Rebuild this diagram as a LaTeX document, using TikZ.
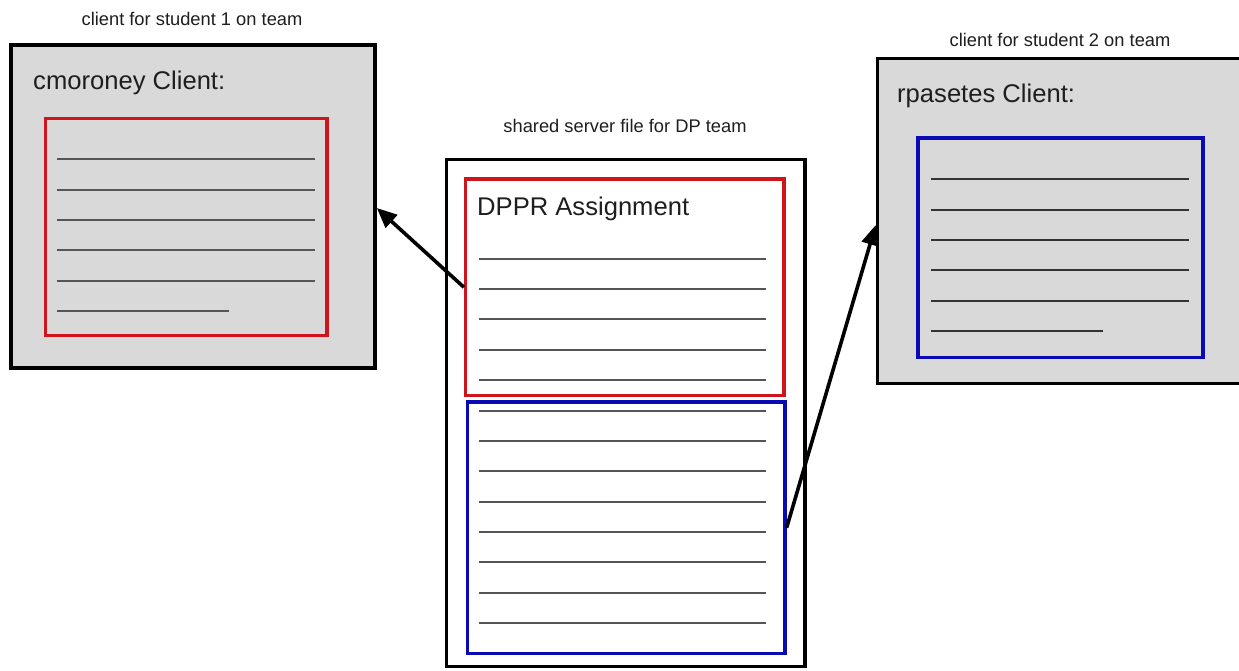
\documentclass[tikz,border=0pt]{standalone}
\usepackage{fontspec}
\setmainfont{Liberation Sans}
\usetikzlibrary{fit,arrows.meta}

\definecolor{panelgray}{HTML}{D9D9D9}
\definecolor{framered}{HTML}{D0141C}
\definecolor{frameblue}{HTML}{0A0AB4}
\definecolor{rulegray}{HTML}{555555}
\definecolor{ruledark}{HTML}{333333}
\definecolor{inkgray}{HTML}{1E1E1E}

\tikzset{
  outerbox/.style={draw=black, line width=3.6pt, inner sep=0pt, rectangle},
  clientbox/.style={outerbox, fill=panelgray},
  serverbox/.style={outerbox, fill=white},
  redframe/.style={draw=framered, line width=3.2pt, inner sep=0pt, rectangle},
  blueframe/.style={draw=frameblue, line width=3.2pt, inner sep=0pt, rectangle},
  rule/.style={draw=rulegray, line width=2pt},
  darkrule/.style={draw=ruledark, line width=2pt},
  caption/.style={anchor=base, inner sep=0pt, text=inkgray,
    font=\fontsize{18.3}{22}\selectfont},
  heading/.style={anchor=base west, inner sep=0pt, text=inkgray,
    font=\fontsize{25.6}{30}\selectfont},
  link/.style={draw=black, line width=3.6pt,
    -{Triangle[length=20pt,width=17pt]}}
}

\begin{document}
\begin{tikzpicture}[x=1pt, y=-1pt]
  \useasboundingbox[fill=white] (0,0) rectangle (1239,671);

  % ---- client for student 1 ----
  \node[caption] (cap1) at (192,26) {client for student 1 on team};
  \node[clientbox, fit={(11,45) (375,368)}] (client1) {};
  \node[heading] (title1) at (33,90) {cmoroney Client:};
  \node[redframe, fit={(45.5,118.5) (327,335.5)}] (copy1) {};
  \foreach \y in {159,190,220,250,281}
    \draw[rule] (57,\y) -- (315,\y);
  \draw[rule] (57,311) -- (229,311);

  % ---- shared server file ----
  \node[caption] (cap0) at (625,133) {shared server file for DP team};
  \node[serverbox, fit={(446.5,159.5) (805,666.5)}] (server) {};
  \node[redframe, fit={(465.5,179) (784,395.5)}] (part1) {};
  \node[heading] (title0) at (477,215) {DPPR Assignment};
  \foreach \y in {259,289,319,350,380}
    \draw[rule] (479,\y) -- (766,\y);
  \node[blueframe, fit={(467.5,402) (785,653.5)}] (part2) {};
  \foreach \y in {411,441,471,502,532,562,593,623}
    \draw[rule] (479,\y) -- (766,\y);

  % ---- client for student 2 ----
  \node[caption] (cap2) at (1060,47) {client for student 2 on team};
  \node[clientbox, fit={(877.5,58.5) (1250,383.5)}] (client2) {};
  \node[heading] (title2) at (897,103) {rpasetes Client:};
  \node[blueframe, fit={(918,138) (1203,357.5)}] (copy2) {};
  \foreach \y in {179,210,240,270,301}
    \draw[darkrule] (931,\y) -- (1189,\y);
  \draw[darkrule] (931,331) -- (1103,331);

  % ---- sync connectors ----
  \coordinate (in1) at ([yshift=-1.5pt]client1.east);
  \coordinate (in2) at ([yshift=-4pt]client2.west);
  \draw[link] (part1.west) -- (in1);
  \draw[link] (part2.east) -- (in2);
\end{tikzpicture}
\end{document}
